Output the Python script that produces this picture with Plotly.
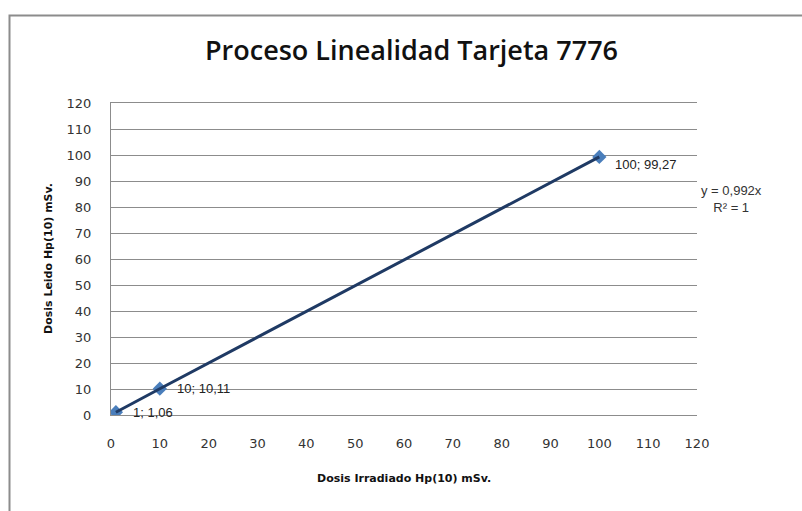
import plotly.graph_objects as go

x_irradiado = [1, 10, 100]
y_leido = [1.06, 10.11, 99.27]
point_labels = ["1; 1,06", "10; 10,11", "100; 99,27"]
x_ticks = [0, 10, 20, 30, 40, 50, 60, 70, 80, 90, 100, 110, 120]
y_ticks = [0, 10, 20, 30, 40, 50, 60, 70, 80, 90, 100, 110, 120]
title_text = "Proceso Linealidad Tarjeta 7776"
x_title = "Dosis Irradiado Hp(10) mSv."
y_title = "Dosis Leido Hp(10) mSv."
trend_text = "y = 0,992x<br>R² = 1"

W, H = 802, 511
L, R, T, B = 111, 105, 103, 96
pw, ph = W - L - R, H - T - B

def px(x):
    return (x - L) / pw

def py(y):
    return (H - B - y) / ph

fig = go.Figure()
fig.add_trace(go.Scatter(
    x=x_irradiado, y=y_leido, mode="markers",
    marker=dict(symbol="diamond", size=11, color="#4A7EBB"),
    showlegend=False, hoverinfo="skip"))
fig.add_trace(go.Scatter(
    x=x_irradiado, y=y_leido, mode="lines",
    line=dict(color="#1F3A64", width=3),
    showlegend=False, hoverinfo="skip"))

anns = []
offsets = [(15, 0), (15, 0), (14, -8)]
for xv, yv, lab, (dx, dy) in zip(x_irradiado, y_leido, point_labels, offsets):
    anns.append(dict(x=xv, y=yv, xref="x", yref="y", text=lab, showarrow=False,
                     xanchor="left", yanchor="middle", xshift=dx, yshift=dy,
                     font=dict(family="Liberation Sans, Arial", size=13, color="#222")))
anns.append(dict(x=px(731), y=py(199), xref="paper", yref="paper", text=trend_text,
                 showarrow=False, xanchor="center", yanchor="middle", align="center",
                 font=dict(family="Liberation Sans, Arial", size=13, color="#333")))
anns.append(dict(x=px(404), y=py(478), xref="paper", yref="paper", text="<b>" + x_title + "</b>",
                 showarrow=False, xanchor="center", yanchor="middle",
                 font=dict(family="DejaVu Sans", size=11, color="#111")))
anns.append(dict(x=px(48), y=py(259), xref="paper", yref="paper", text="<b>" + y_title + "</b>",
                 showarrow=False, xanchor="center", yanchor="middle", textangle=-90,
                 font=dict(family="DejaVu Sans", size=11, color="#111")))
anns.append(dict(x=px(411), y=py(50), xref="paper", yref="paper", text=title_text,
                 showarrow=False, xanchor="center", yanchor="middle",
                 font=dict(family="Open Sans", size=27, color="#111", weight=600)))

fig.update_layout(
    width=W, height=H, margin=dict(l=L, r=R, t=T, b=B, autoexpand=False),
    paper_bgcolor="white", plot_bgcolor="white",
    annotations=anns,
    shapes=[dict(type="rect", xref="paper", yref="paper",
                 x0=px(9.5), x1=px(830), y0=py(540), y1=py(15.5),
                 line=dict(color="#8C8C8C", width=2), fillcolor="rgba(0,0,0,0)", layer="below")],
    xaxis=dict(range=[0, 120], tickvals=x_ticks, showgrid=False, zeroline=False,
               showline=True, mirror=True, linecolor="#8C8C8C", linewidth=1,
               ticks="", ticklabelstandoff=16,
               tickfont=dict(family="DejaVu Sans", size=13, color="#333"),
               automargin=False, fixedrange=True),
    yaxis=dict(range=[0, 120], tickvals=y_ticks, showgrid=True, gridcolor="#8C8C8C", gridwidth=1,
               zeroline=False, showline=True, linecolor="#8C8C8C", linewidth=1,
               ticks="", ticklabelstandoff=16,
               tickfont=dict(family="DejaVu Sans", size=13, color="#333"),
               automargin=False, fixedrange=True),
)

fig.write_html("out.html", config={"displayModeBar": False},
               post_script="document.body.style.margin='0';")
